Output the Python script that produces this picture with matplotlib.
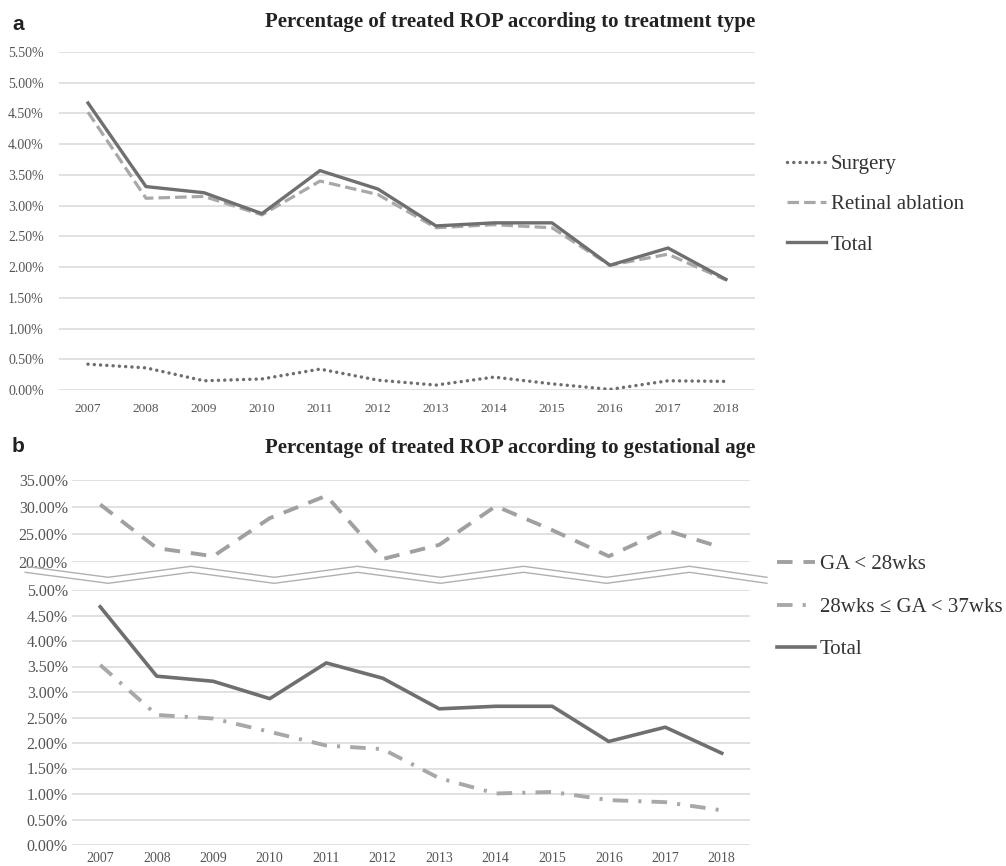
import numpy as np
import matplotlib
matplotlib.use("Agg")
import matplotlib.pyplot as plt
import matplotlib.transforms as mtransforms
from matplotlib.lines import Line2D

plt.rcParams['font.family'] = ['Liberation Serif', 'DejaVu Serif']

# ---------------- data ----------------
years = ['2007', '2008', '2009', '2010', '2011', '2012', '2013', '2014', '2015', '2016', '2017', '2018']

# panel a (percent)
surgery = [0.42, 0.36, 0.15, 0.18, 0.34, 0.16, 0.08, 0.21, 0.10, 0.01, 0.15, 0.14]
retinal_ablation = [4.52, 3.12, 3.15, 2.85, 3.40, 3.18, 2.64, 2.69, 2.64, 2.03, 2.21, 1.79]
total = [4.67, 3.31, 3.21, 2.87, 3.57, 3.27, 2.67, 2.72, 2.72, 2.03, 2.31, 1.80]

# panel b (percent)
ga_lt28 = [30.5, 22.5, 21.0, 28.0, 32.1, 20.5, 23.1, 30.2, 25.8, 21.0, 25.8, 22.6]
ga_28_37 = [3.53, 2.55, 2.48, 2.22, 1.95, 1.88, 1.31, 1.01, 1.04, 0.88, 0.84, 0.68]

labels_a = ['Surgery', 'Retinal ablation', 'Total']
labels_b = ['GA < 28wks', '28wks \u2264 GA < 37wks', 'Total']
title_a = 'Percentage of treated ROP according to treatment type'
title_b = 'Percentage of treated ROP according to gestational age'

yticks_a = np.arange(0, 5.51, 0.5)
yticks_bu = [20, 25, 30, 35]
yticks_bl = np.arange(0, 5.01, 0.5)

# ---------------- styling ----------------
W, H = 1006, 866
fig = plt.figure(figsize=(W / 100, H / 100), dpi=100)
fig.patch.set_facecolor('white')

GRID = '#d9d9d9'
TICKC = '#555555'
C_TOTAL = '#6f6f6f'
C_LIGHT = '#a8a8a8'
C_DOT = '#6e6e6e'

x = np.arange(len(years))


def px_axes(left, right, top, bottom):
    return fig.add_axes([left / W, (H - bottom) / H, (right - left) / W, (bottom - top) / H])


def style(ax, ylim, yticks, fs, pad, show_x, xfs=9.5, xpad=8):
    ax.set_xlim(-0.5, len(years) - 0.5)
    ax.set_ylim(*ylim)
    ax.set_yticks(yticks)
    ax.set_yticklabels([f'{v:.2f}%' for v in yticks], fontsize=fs, color=TICKC)
    ax.yaxis.grid(True, color=GRID, lw=1.1)
    ax.set_axisbelow(True)
    for s in ax.spines.values():
        s.set_visible(False)
    ax.tick_params(axis='y', length=0, pad=pad)
    ax.set_xticks(x)
    if show_x:
        ax.set_xticklabels(years, fontsize=xfs, color=TICKC)
        ax.tick_params(axis='x', length=0, pad=xpad)
    else:
        ax.set_xticklabels([])
        ax.tick_params(axis='x', length=0)


# ---------------- panel a ----------------
ax_a = px_axes(59, 755, 52, 390)
style(ax_a, (0, 5.5), yticks_a, 10, 11, True, xfs=9.5, xpad=9)
la1, = ax_a.plot(x, surgery, color=C_DOT, lw=2.5, ls=(0, (0.01, 1.8)), dash_capstyle='round')
la2, = ax_a.plot(x, retinal_ablation, color=C_LIGHT, lw=2.3, ls=(0, (3.6, 1.6)))
la3, = ax_a.plot(x, total, color=C_TOTAL, lw=2.4)

fig.legend([la1, la2, la3], labels_a, loc='center left',
           bbox_to_anchor=(787 / W, 1 - 204.5 / H), frameon=False,
           fontsize=15, handlelength=1.85, handletextpad=0.25,
           labelspacing=1.0, borderpad=0, borderaxespad=0, labelcolor='#333333')

fig.text(18 / W, 1 - 24 / H, 'a', fontsize=15, fontweight='bold',
         family='Liberation Sans', va='center', ha='center', color='#222222')
fig.text(510 / W, 1 - 22 / H, title_a, fontsize=15, fontweight='bold',
         va='center', ha='center', color='#222222')

# ---------------- panel b ----------------
ax_bu = px_axes(72, 750, 480, 561.7)
ax_bl = px_axes(72, 750, 590, 845)
style(ax_bu, (20, 35), yticks_bu, 11.5, 3, False)
style(ax_bl, (0, 5), yticks_bl, 11.5, 3, True, xfs=10, xpad=5)

lb1, = ax_bu.plot(x, ga_lt28, color='#a0a0a0', lw=2.8, ls=(0, (4, 2.8)))
lb2, = ax_bl.plot(x, ga_28_37, color=C_LIGHT, lw=2.8, ls=(0, (4, 2.6, 0.8, 2.6)))
lb3, = ax_bl.plot(x, total, color=C_TOTAL, lw=2.6)

fig.legend([lb1, lb2, lb3], labels_b, loc='center left',
           bbox_to_anchor=(777 / W, 1 - 607 / H), frameon=False,
           fontsize=15, handlelength=1.8, handletextpad=0.25,
           labelspacing=1.1, borderpad=0, borderaxespad=0, labelcolor='#333333')

fig.text(18 / W, 1 - 447 / H, 'b', fontsize=15, fontweight='bold',
         family='Liberation Sans', va='center', ha='center', color='#222222')
fig.text(510 / W, 1 - 448 / H, title_b, fontsize=15, fontweight='bold',
         va='center', ha='center', color='#222222')

# broken-axis zigzag (decoration), x in category units of the lower axis
blend = mtransforms.blended_transform_factory(ax_bl.transData, fig.transFigure)
half = 1.47
zx = -1.33 + np.arange(10) * half
zx[-1] = min(zx[-1], 11.8)
level = np.arange(10) % 2
for top in (566.3, 572.3):
    ys = top + level * 11
    fig.add_artist(Line2D(zx, 1 - ys / H, transform=blend, color='#b0b0b0', lw=1.0))

fig.savefig('out.png', dpi=100, facecolor='white')
